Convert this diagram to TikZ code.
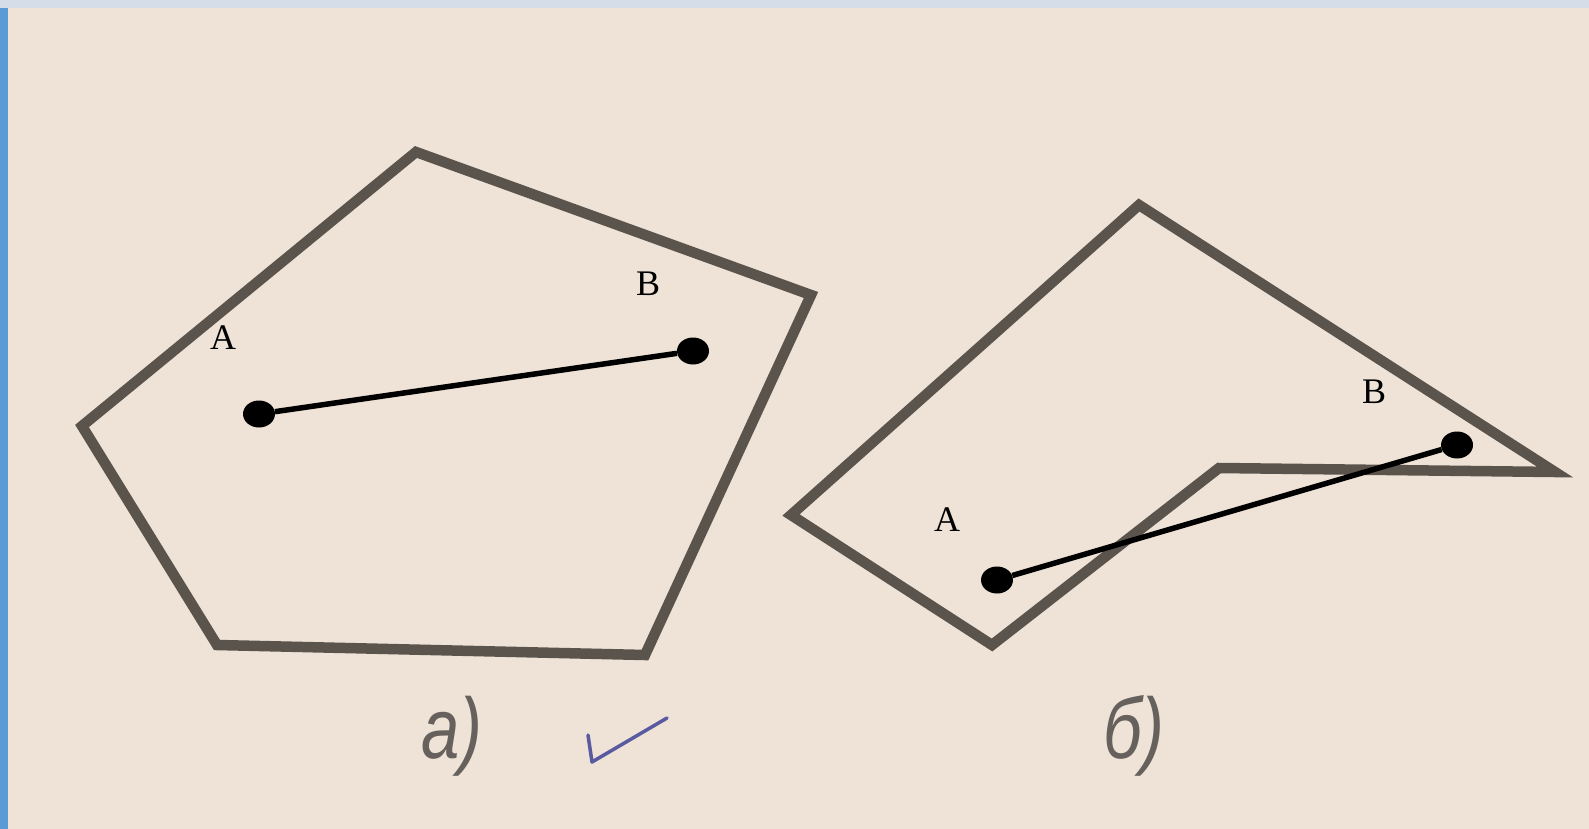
\documentclass[tikz,border=0pt]{standalone}
\usepackage{fontspec}
\setmainfont{Liberation Serif}
\newfontfamily\capfont{Liberation Sans}
\usetikzlibrary{shapes.geometric}
\definecolor{paper}{HTML}{EEE3D6}
\definecolor{topband}{HTML}{D5DDE8}
\definecolor{sidebar}{HTML}{5B9BD5}
\definecolor{ink}{HTML}{5B544D}
\definecolor{capink}{HTML}{66615C}
\definecolor{tick}{HTML}{5A5AA0}
\tikzset{
  figline/.style={draw=ink, line width=10.5pt, line join=miter},
  ptdot/.style={ellipse, fill=black, minimum width=32pt, minimum height=27pt, inner sep=0pt},
  seg/.style={draw=black, line width=5.5pt},
  ptlabel/.style={inner sep=0pt, font=\fontsize{36}{40}\selectfont},
  caption/.style={inner sep=0pt, text=capink, xscale=0.8, font=\capfont\itshape\fontsize{86}{90}\selectfont}
}
\begin{document}
\begin{tikzpicture}[x=1pt,y=-1pt]
\useasboundingbox (0,0) rectangle (1589,829);
\fill[paper] (0,0) rectangle (1589,829);
\fill[topband] (0,0) rectangle (1589,8);
\fill[sidebar] (0,8) rectangle (8,829);
% figure a
\draw[figline] (416,152) -- (811,295) -- (645,655) -- (217,645) -- (82,426) -- cycle;
\node[ptdot] (A1) at (259,414) {};
\node[ptdot] (B1) at (693,351) {};
\draw[seg] (A1) -- (B1);
\node[ptlabel] (lA1) at (223,338) {A};
\node[ptlabel] (lB1) at (648,284) {B};
% figure b
\draw[figline] (1139,205) -- (1555,472) -- (1219,468) -- (992,645) -- (791,515) -- cycle;
\node[ptdot] (A2) at (997,580) {};
\node[ptdot] (B2) at (1457,445) {};
\draw[seg] (A2) -- (B2);
\node[ptlabel] (lA2) at (947,520) {A};
\node[ptlabel] (lB2) at (1374,392) {B};
% captions
\node[caption] (capa) at (452,736) {а)};
\node[caption] (capb) at (1134,736) {б)};
% tick mark
\coordinate (t1) at (588,735);
\coordinate (t2) at (592,762);
\coordinate (t3) at (667,718);
\draw[tick, line width=3.5pt, line cap=round, line join=round] (t1) -- (t2) -- (t3);
\end{tikzpicture}
\end{document}
